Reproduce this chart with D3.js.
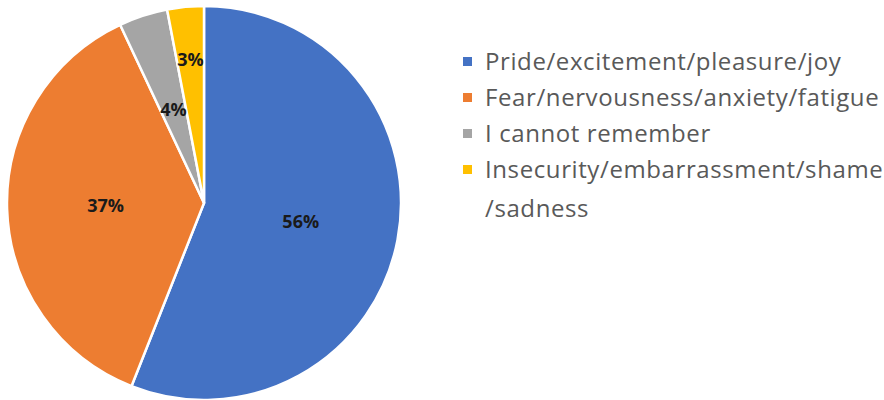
<!DOCTYPE html>
<html>
<head>
<meta charset="utf-8">
<script src="https://d3js.org/d3.v7.min.js"></script>
<style>
body {margin: 0; background: white;}
svg {font-family: "Open Sans", Arial, sans-serif;}
</style>
</head>
<body>
<svg width="884" height="400"></svg>
<script>

var categories = ["Pride/excitement/pleasure/joy", "Fear/nervousness/anxiety/fatigue", "I cannot remember", "Insecurity/embarrassment/shame/sadness"];
var legendLines = [["Pride/excitement/pleasure/joy"], ["Fear/nervousness/anxiety/fatigue"], ["I cannot remember"], ["Insecurity/embarrassment/shame", "/sadness"]];
var values = [56, 37, 4, 3];
var colors = ["#4472C4", "#ED7D31", "#A5A5A5", "#FFC000"];

var svg = d3.select("svg");
var cx = 204, cy = 203, r = 197;

var color = d3.scaleOrdinal().domain(categories).range(colors);

var pie = d3.pie().sort(null).value(function(d, i) { return values[i]; });
var arcs = pie(categories);

var arc = d3.arc().innerRadius(0).outerRadius(r);
var labelArc = d3.arc().innerRadius(r * 0.5).outerRadius(r * 0.5);
var outerLabelArc = d3.arc().innerRadius(r * 0.73).outerRadius(r * 0.73);

var g = svg.append("g").attr("transform", "translate(" + cx + "," + cy + ")");

g.selectAll("path")
  .data(arcs)
  .enter()
  .append("path")
    .attr("d", arc)
    .attr("fill", function(d) { return color(d.data); })
    .attr("stroke", "white")
    .attr("stroke-width", 2.5)
    .attr("stroke-linejoin", "round");

g.selectAll("text")
  .data(arcs)
  .enter()
  .append("text")
    .attr("transform", function(d) {
      var small = (d.endAngle - d.startAngle) < 0.2;
      var c = small ? outerLabelArc.centroid(d) : labelArc.centroid(d);
      return "translate(" + c + ")";
    })
    .attr("text-anchor", "middle")
    .attr("dy", "0.35em")
    .attr("font-size", 18)
    .attr("font-weight", "bold")
    .attr("fill", "#1a1a1a")
    .text(function(d) { return values[d.index] + "%"; });

// legend
var lx = 463, ly = 62, rowH = 36;
var legend = svg.append("g");
var rows = legend.selectAll("g")
  .data(categories)
  .enter()
  .append("g")
    .attr("transform", function(d, i) { return "translate(" + lx + "," + (ly + i * rowH) + ")"; });

rows.append("rect")
  .attr("x", 0)
  .attr("y", -5)
  .attr("width", 9)
  .attr("height", 9)
  .attr("fill", function(d) { return color(d); });

rows.append("text")
  .attr("x", 22)
  .attr("font-size", 24)
  .attr("letter-spacing", 0.6)
  .attr("fill", "#595959")
  .selectAll("tspan")
  .data(function(d, i) { return legendLines[i]; })
  .enter()
  .append("tspan")
    .attr("x", 22)
    .attr("y", function(d, j) { return j * 39; })
    .attr("dy", "0.35em")
    .text(function(d) { return d; });

</script>
</body>
</html>
